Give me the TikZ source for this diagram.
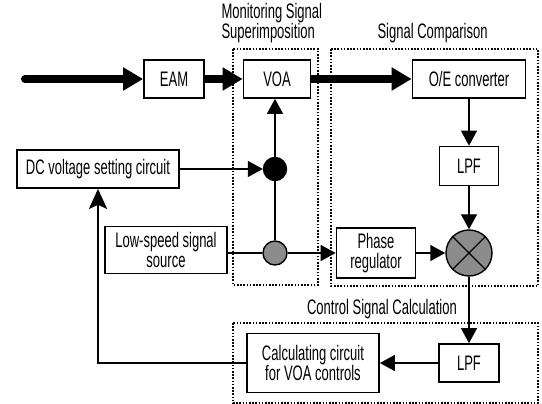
\documentclass[tikz,border=0pt]{standalone}
\usepackage{fontspec}
\setmainfont[FakeStretch=0.62]{Liberation Sans}
\usetikzlibrary{arrows.meta}
\definecolor{mixgray}{RGB}{140,140,140}

\begin{document}
\begin{tikzpicture}[x=1pt, y=-1pt, font=\fontsize{21}{20.5}\selectfont,
    block/.style={draw, line width=1.7pt, inner sep=0pt, align=center},
    group/.style={line width=1.6pt, dash pattern=on 1.6pt off 1.6pt},
    wire/.style={line width=1.4pt, -{Triangle[length=15pt, width=16pt]}},
    beam/.style={line width=8pt, -{Triangle[length=20pt, width=22pt]}},
    feed/.style={line width=2.6pt, -{Stealth[length=20pt, width=18pt, inset=4pt]}},
    joint/.style={circle, draw, line width=1.4pt, inner sep=0pt}]
  \useasboundingbox (0, 0) rectangle (542, 404);

  % \draw[help lines, step=20] (0, 0) grid (540, 400);
  \draw[group] (233, 49) rectangle (318, 285);
  \draw[group] (331, 49) rectangle (538, 286);
  \draw[group] (233, 323) rectangle (538, 403);

  \node[anchor=base west, align=left] (labmon) at (218, 39)
    {Monitoring Signal\\Superimposition};
  \node[anchor=base west] (labcmp) at (374, 39) {Signal Comparison};
  \node[anchor=base] (labctl) at (382, 314) {Control Signal Calculation};

  \node[block, minimum width=60pt, minimum height=38pt] (eam) at (174, 79) {EAM};
  \node[block, minimum width=67pt, minimum height=38pt] (voa) at (277, 79) {VOA};
  \node[block, minimum width=113pt, minimum height=38pt] (oe) at (469, 79)
    {O/E converter};
  \node[block, minimum width=59pt, minimum height=39pt] (lpfa) at (469, 166)
    {LPF};
  \node[block, minimum width=162pt, minimum height=38pt] (dc) at (98, 169)
    {DC voltage setting circuit};
  \node[block, minimum width=122pt, minimum height=47pt] (low) at (166, 250)
    {Low-speed signal\\source};
  \node[block, minimum width=79pt, minimum height=50pt] (phase) at (376, 253)
    {Phase\\regulator};
  \node[block, minimum width=60pt, minimum height=38pt] (lpfb) at (469, 363)
    {LPF};
  \node[block, minimum width=132pt, minimum height=59pt] (calc) at (313, 363)
    {Calculating circuit\\for VOA controls};

  \node[joint, fill=black, minimum size=23pt] (bdot) at (275, 169) {};
  \node[joint, fill=mixgray, minimum size=24pt] (gdot) at (275, 253) {};
  \node[joint, fill=mixgray, minimum size=46pt] (mix) at (469, 253) {};
  \draw[line width=1.4pt] (mix.north west) -- (mix.south east)
    (mix.north east) -- (mix.south west);

  \coordinate (in) at (25, 79);
  \draw[beam, line cap=round] (in) -- (eam);
  \draw[beam] (eam) -- (voa);
  \draw[beam] (voa) -- (oe);

  \draw[wire] (oe) -- (lpfa);
  \draw[wire] (lpfa) -- (mix);
  \draw[wire] (mix) -- (lpfb);
  \draw[wire] (lpfb) -- (calc);
  \draw[wire] (dc) -- (bdot);
  \draw[wire] (bdot) -- (bdot |- voa.south);
  \draw[line width=1.4pt] (gdot) -- (bdot);
  \draw[line width=1.4pt] (low.east |- gdot) -- (gdot);
  \draw[wire] (gdot) -- (phase);
  \draw[wire] (phase) -- (mix);
  \draw[feed] (calc) -| (dc);
\end{tikzpicture}
\end{document}
